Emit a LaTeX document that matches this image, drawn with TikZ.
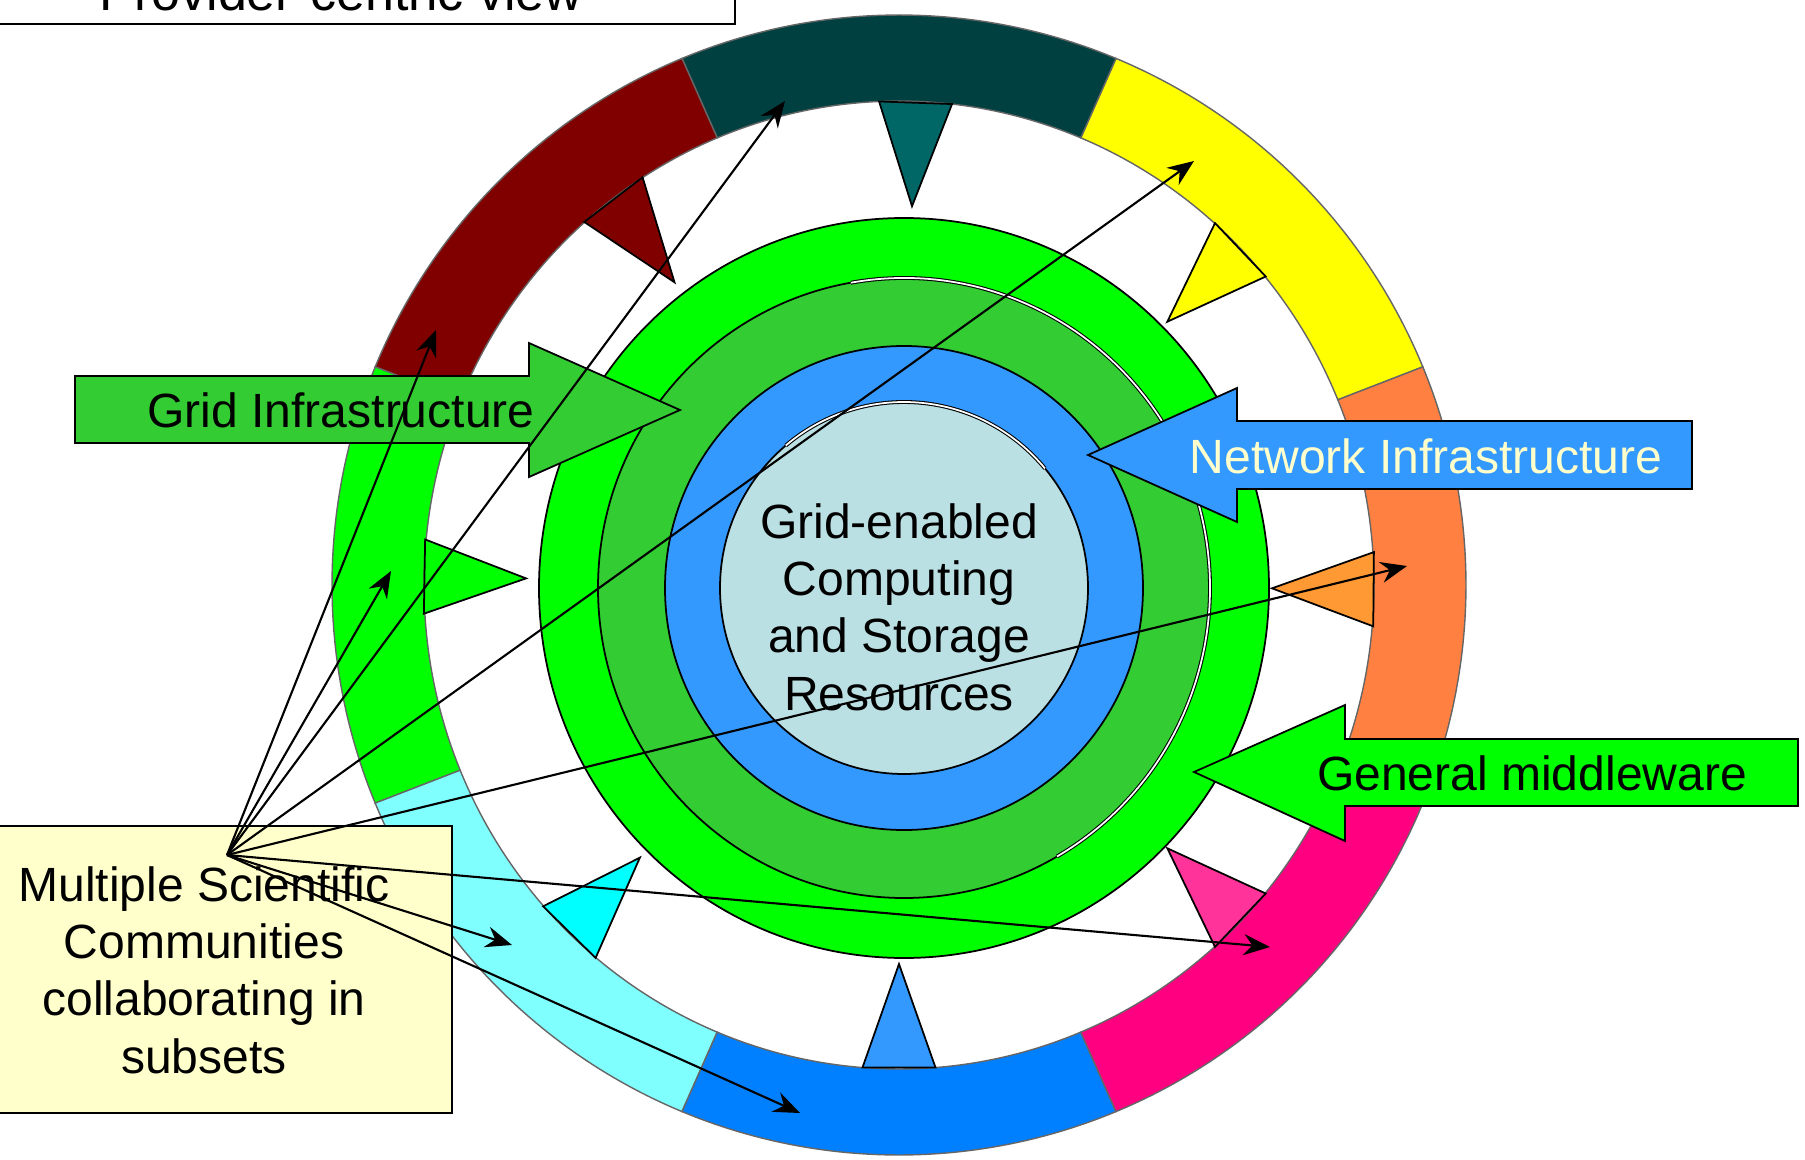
\documentclass[tikz,border=0pt]{standalone}
\usepackage{fontspec}
\setmainfont{Liberation Sans}
\usetikzlibrary{arrows.meta}

\definecolor{ringyel}{HTML}{FFFF00}
\definecolor{ringteal}{HTML}{004040}
\definecolor{ringred}{HTML}{800000}
\definecolor{ringgrn}{HTML}{00FF00}
\definecolor{ringcya}{HTML}{80FFFF}
\definecolor{ringblu}{HTML}{0080FF}
\definecolor{ringpnk}{HTML}{FF0080}
\definecolor{ringora}{HTML}{FF8040}
\definecolor{triteal}{HTML}{006666}
\definecolor{tricya}{HTML}{00FFFF}
\definecolor{triblu}{HTML}{3399FF}
\definecolor{tripnk}{HTML}{FF3399}
\definecolor{triora}{HTML}{FF9933}
\definecolor{discgrn}{HTML}{00FF00}
\definecolor{discdkgrn}{HTML}{33CC33}
\definecolor{discblu}{HTML}{3399FF}
\definecolor{disclt}{HTML}{BBE0E3}
\definecolor{paleyel}{HTML}{FFFFCC}

\begin{document}
\begin{tikzpicture}[x=0.01cm,y=0.01cm,
    lbl/.style={font=\fontsize{13.66pt}{16.3pt}\selectfont,inner sep=0pt},
    outl/.style={draw=black,line width=0.5pt},
    dbl/.style={draw=black,line width=0.3pt,double=white,double distance=0.5pt},
    conn/.style={line width=0.6pt,-{Stealth[length=7.5pt,width=6pt,inset=2.5pt]}}]
  \useasboundingbox (0,0) rectangle (1805,1159);
  \clip (0,0) rectangle (1805,1159);
  \coordinate (o) at (899,574);
  \coordinate (c) at (904,571);

  % outer ring
  \begin{scope}[shift={(o)}]
    \foreach \a/\col in {22.5/ringyel,67.5/ringteal,112.5/ringred,157.5/ringgrn,
                         202.5/ringcya,247.5/ringblu,292.5/ringpnk,337.5/ringora}
      \filldraw[fill=\col,draw=black!60,line width=0.4pt]
        (\a:567 and 570) arc[start angle=\a,delta angle=45,x radius=567,y radius=570]
        -- ({\a+45}:475 and 484) arc[start angle=\a+45,delta angle=-45,x radius=475,y radius=484]
        -- cycle;
    % pointers
    \foreach \a/\col in {44/ringyel,88/triteal,127/ringred,179/ringgrn,
                         226/tricya,270/triblu,316/tripnk,359.5/triora}
      \filldraw[fill=\col,outl] ({\a+4.4}:476 and 484) -- (\a:373 and 379)
        -- ({\a-4.4}:476 and 484) -- cycle;
  \end{scope}

  % discs
  \filldraw[fill=discgrn,outl] (c) ellipse[x radius=365,y radius=370];
  \filldraw[fill=discdkgrn,outl] (c) ellipse[x radius=306,y radius=310];
  \draw[dbl] (c) ++(100:306 and 310) arc[start angle=100,end angle=-60,x radius=306,y radius=310];
  \filldraw[fill=discblu,outl] (c) ellipse[x radius=239,y radius=242];
  \filldraw[fill=disclt,outl] (c) ellipse[x radius=184,y radius=186];
  \draw[dbl] (c) ++(130:184 and 186) arc[start angle=130,end angle=40,x radius=184,y radius=186];
  \node[lbl,align=center,anchor=base] (core) at (899,449)
    {Grid-enabled\\Computing\\and Storage\\Resources};

  % block arrows
  \filldraw[fill=discdkgrn,outl] (75,783) -- (529,783) -- (529,816) -- (680,749)
    -- (529,682) -- (529,716) -- (75,716) -- cycle;
  \node[lbl,anchor=base] (grid) at (341,732) {Grid Infrastructure};
  \filldraw[fill=discblu,outl] (1692,738) -- (1237,738) -- (1237,771) -- (1088,704)
    -- (1237,637) -- (1237,670) -- (1692,670) -- cycle;
  \node[lbl,anchor=base,text=paleyel] (net) at (1426,686) {Network Infrastructure};
  \filldraw[fill=discgrn,outl] (1798,420) -- (1345,420) -- (1345,454) -- (1194,387)
    -- (1345,318) -- (1345,353) -- (1798,353) -- cycle;
  \node[lbl,anchor=base] (mw) at (1532,369) {General middleware};

  % boxes
  \draw[line width=0.7pt] (-10,1135) rectangle (735,1200);
  \node[font=\fontsize{14.8pt}{17pt}\selectfont,inner sep=0pt,anchor=base] (title)
    at (341,1149) {Provider-centric view};
  \filldraw[fill=paleyel,line width=0.7pt] (-5,46) rectangle (452,333);
  \node[lbl,align=center,anchor=base] (comm) at (204,86)
    {Multiple Scientific\\Communities\\collaborating in\\subsets};

  % connectors
  \coordinate (src) at (227,304);
  \coordinate (tRed) at (436,829);
  \coordinate (tTeal) at (785,1058);
  \coordinate (tYel) at (1194,998);
  \coordinate (tGrn) at (391,588);
  \coordinate (tOra) at (1407,593);
  \coordinate (tPnk) at (1270,212);
  \coordinate (tCya) at (512,214);
  \coordinate (tBlu) at (800,46);
  \foreach \t in {tRed,tTeal,tYel,tGrn,tOra,tPnk,tCya,tBlu}
    \draw[conn] (src) -- (\t);
\end{tikzpicture}
\end{document}
